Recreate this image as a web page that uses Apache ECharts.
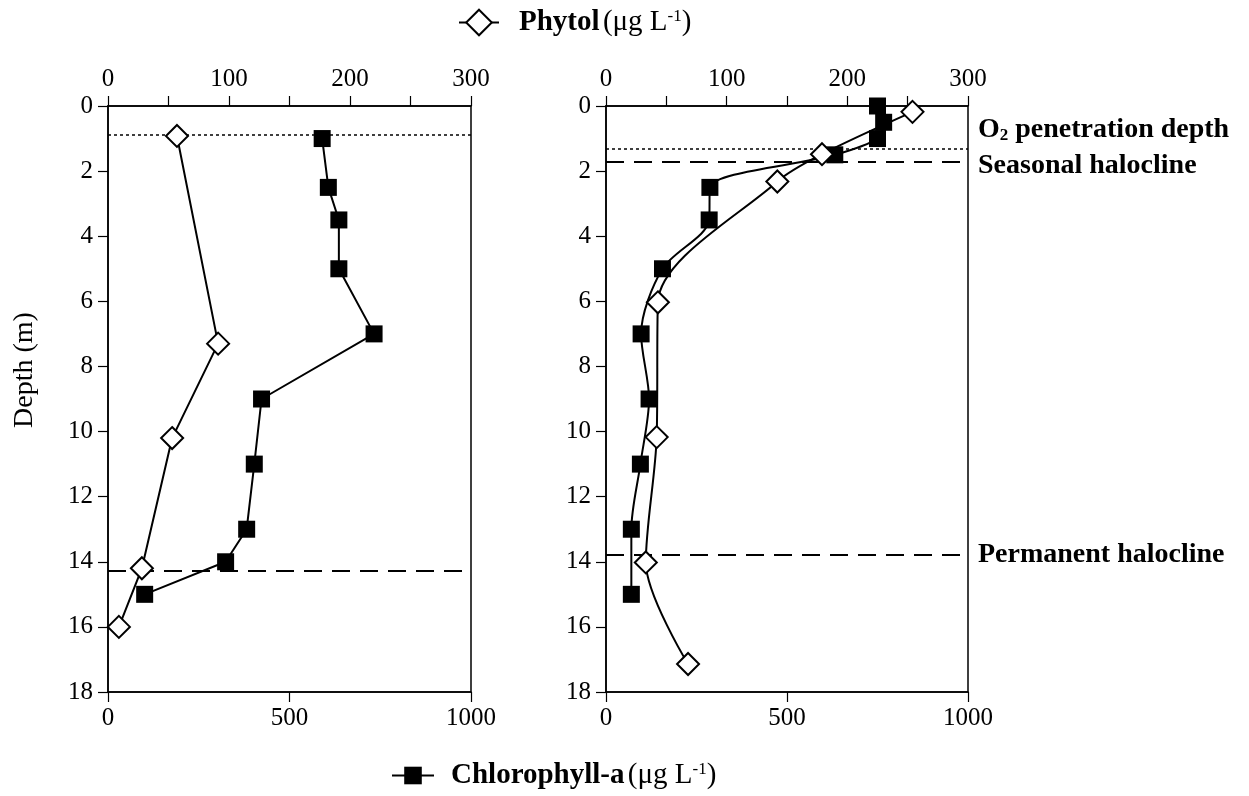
<!DOCTYPE html>
<html>
<head>
<meta charset="utf-8">
<script src="https://cdn.jsdelivr.net/npm/echarts@6/dist/echarts.min.js"></script>
<style>
html,body{margin:0;padding:0;background:#fff;}
#chart{width:1249px;height:796px;}
</style>
</head>
<body>
<div id="chart"></div>
<script>
// ---- Data ----
const depthTicks = [0, 2, 4, 6, 8, 10, 12, 14, 16, 18];
const phytolTicks = [0, 100, 200, 300];
const chlTicks = [0, 500, 1000];

const leftPhytolDepth = [0.92, 7.3, 10.2, 14.2, 16.0];
const leftPhytol = [57, 91, 53, 28, 9];
const leftChlDepth = [1, 2.5, 3.5, 5, 7, 9, 11, 13, 14, 15];
const leftChl = [590, 607, 636, 636, 733, 423, 403, 382, 324, 101];

const rightPhytolDepth = [0.18, 1.48, 2.32, 6.03, 10.17, 14.02, 17.14];
const rightPhytol = [254, 179, 142, 43, 42, 33, 68];
const rightChlDepth = [0, 0.5, 1, 1.5, 2.5, 3.5, 5, 7, 9, 11, 13, 15];
const rightChl = [750, 767, 750, 632, 287, 285, 156, 97, 119, 95, 70, 70];

const leftO2Depth = 0.87;
const leftHaloclineDepth = 14.28;
const rightO2Depth = 1.3;
const rightSeasonalDepth = 1.71;
const rightPermanentDepth = 13.77;

// ---- Build ----
const pair = (xs, ys) => xs.map((v, i) => [v, ys[i]]);
const FONT = 'Liberation Serif';
const txt = {fontFamily: FONT, fontSize: 25, color: '#000'};

function xAxisTop(grid) {
  return {
    gridIndex: grid, type: 'value', position: 'top', min: 0, max: 300, interval: 50,
    axisLine: {show: true, onZero: false, lineStyle: {color: '#000', width: 1.5}},
    axisTick: {show: true, inside: false, length: 10, lineStyle: {color: '#000', width: 1.2}},
    axisLabel: Object.assign({margin: 14, formatter: v => phytolTicks.includes(v) ? String(v) : ''}, txt),
    splitLine: {show: false}
  };
}
function xAxisBottom(grid) {
  return {
    gridIndex: grid, type: 'value', position: 'bottom', min: 0, max: 1000, interval: 500,
    axisLine: {show: true, onZero: false, lineStyle: {color: '#000', width: 1.5}},
    axisTick: {show: true, inside: false, length: 10, lineStyle: {color: '#000', width: 1.2}},
    axisLabel: Object.assign({margin: 14, formatter: v => chlTicks.includes(v) ? String(v) : ''}, txt),
    splitLine: {show: false}
  };
}
function yAxis(grid, withName) {
  return {
    gridIndex: grid, type: 'value', inverse: true, min: 0, max: 18, interval: 2,
    name: withName ? 'Depth (m)' : '', nameLocation: 'middle', nameGap: 69, nameRotate: 90,
    nameTextStyle: {fontFamily: FONT, fontSize: 28, color: '#000', padding: [0, 0, 0, 58]},
    axisLine: {show: true, onZero: false, lineStyle: {color: '#000', width: 1.5}},
    axisTick: {show: true, length: 10, lineStyle: {color: '#000', width: 1.2}},
    axisLabel: Object.assign({margin: 15, formatter: v => depthTicks.includes(v) ? String(v) : ''}, txt),
    splitLine: {show: false}
  };
}

const phytolStyle = {
  symbol: 'diamond', symbolSize: [22, 22], showSymbol: true,
  itemStyle: {color: '#fff', borderColor: '#000', borderWidth: 2, opacity: 1},
  lineStyle: {color: '#000', width: 2}
};
const chlStyle = {
  symbol: 'rect', symbolSize: 17, showSymbol: true,
  itemStyle: {color: '#000', borderColor: '#000', borderWidth: 0},
  lineStyle: {color: '#000', width: 2}
};

const labelRich = {
  b: {fontFamily: FONT, fontSize: 28, fontWeight: 'bold', color: '#000'},
  sub: {fontFamily: FONT, fontSize: 17, fontWeight: 'bold', color: '#000', padding: [12, 0, 0, 0]}
};

function hLine(y, type, label, pad) {
  const o = {
    yAxis: y,
    lineStyle: {color: '#000', width: type === 'dotted' ? 1.5 : 2, type: type === 'dotted' ? [3, 3] : [18, 10]},
    label: {show: false}
  };
  if (label) {
    o.label = {show: true, position: 'end', distance: 10, formatter: label, rich: labelRich,
      padding: pad || 0, fontFamily: FONT, fontSize: 28, fontWeight: 'bold', color: '#000'};
  }
  return o;
}

const legendRich = {
  b: {fontFamily: FONT, fontSize: 29, fontWeight: 'bold', color: '#000'},
  n: {fontFamily: FONT, fontSize: 29, color: '#000'},
  s: {fontFamily: FONT, fontSize: 17, color: '#000', padding: [0, 0, 12, 0]}
};

const option = {
  backgroundColor: '#fff',
  animation: false,
  grid: [
    {left: 108, top: 106, width: 363, height: 586, show: true, borderColor: '#000', borderWidth: 1.5, backgroundColor: 'transparent'},
    {left: 606, top: 106, width: 362, height: 586, show: true, borderColor: '#000', borderWidth: 1.5, backgroundColor: 'transparent'}
  ],
  xAxis: [xAxisTop(0), xAxisBottom(0), xAxisTop(1), xAxisBottom(1)],
  yAxis: [yAxis(0, true), yAxis(1, false)],
  legend: [
    {data: ['Phytol'], left: 453, top: 3, itemWidth: 40, itemHeight: 32, itemGap: 10,
     formatter: () => '{b|Phytol} {n|(μg L}{s|-1}{n|)}', textStyle: {rich: legendRich, padding: [0, 0, 0, 15]}},
    {data: ['Chlorophyll-a'], left: 386, top: 756, itemWidth: 42, itemHeight: 22, itemGap: 10,
     formatter: () => '{b|Chlorophyll-a} {n|(μg L}{s|-1}{n|)}', textStyle: {rich: legendRich, padding: [0, 0, 0, 12]}}
  ],
  series: [
    Object.assign({name: 'Phytol', type: 'line', xAxisIndex: 0, yAxisIndex: 0, clip: false, z: 3,
      data: pair(leftPhytol, leftPhytolDepth),
      markLine: {symbol: 'none', silent: true, z: 1, data: [hLine(leftO2Depth, 'dotted'), hLine(leftHaloclineDepth, 'dashed')]}
    }, phytolStyle),
    Object.assign({name: 'Chlorophyll-a', type: 'line', xAxisIndex: 1, yAxisIndex: 0, clip: false, z: 2,
      data: pair(leftChl, leftChlDepth)}, chlStyle),
    Object.assign({name: 'Phytol', type: 'line', xAxisIndex: 2, yAxisIndex: 1, clip: false, z: 3, smooth: 0.3,
      data: pair(rightPhytol, rightPhytolDepth),
      markLine: {symbol: 'none', silent: true, z: 1, data: [
        hLine(rightO2Depth, 'dotted', '{b|O}{sub|2}{b| penetration depth}', [0, 0, 38, 0]),
        hLine(rightSeasonalDepth, 'dashed', '{b|Seasonal halocline}', [8, 0, 0, 0]),
        hLine(rightPermanentDepth, 'dashed', '{b|Permanent halocline}')
      ]}
    }, phytolStyle),
    Object.assign({name: 'Chlorophyll-a', type: 'line', xAxisIndex: 3, yAxisIndex: 1, clip: false, z: 2, smooth: 0.3,
      data: pair(rightChl, rightChlDepth)}, chlStyle)
  ]
};

const chart = echarts.init(document.getElementById('chart'), null, {renderer: 'canvas'});
chart.setOption(option);
</script>
</body>
</html>
